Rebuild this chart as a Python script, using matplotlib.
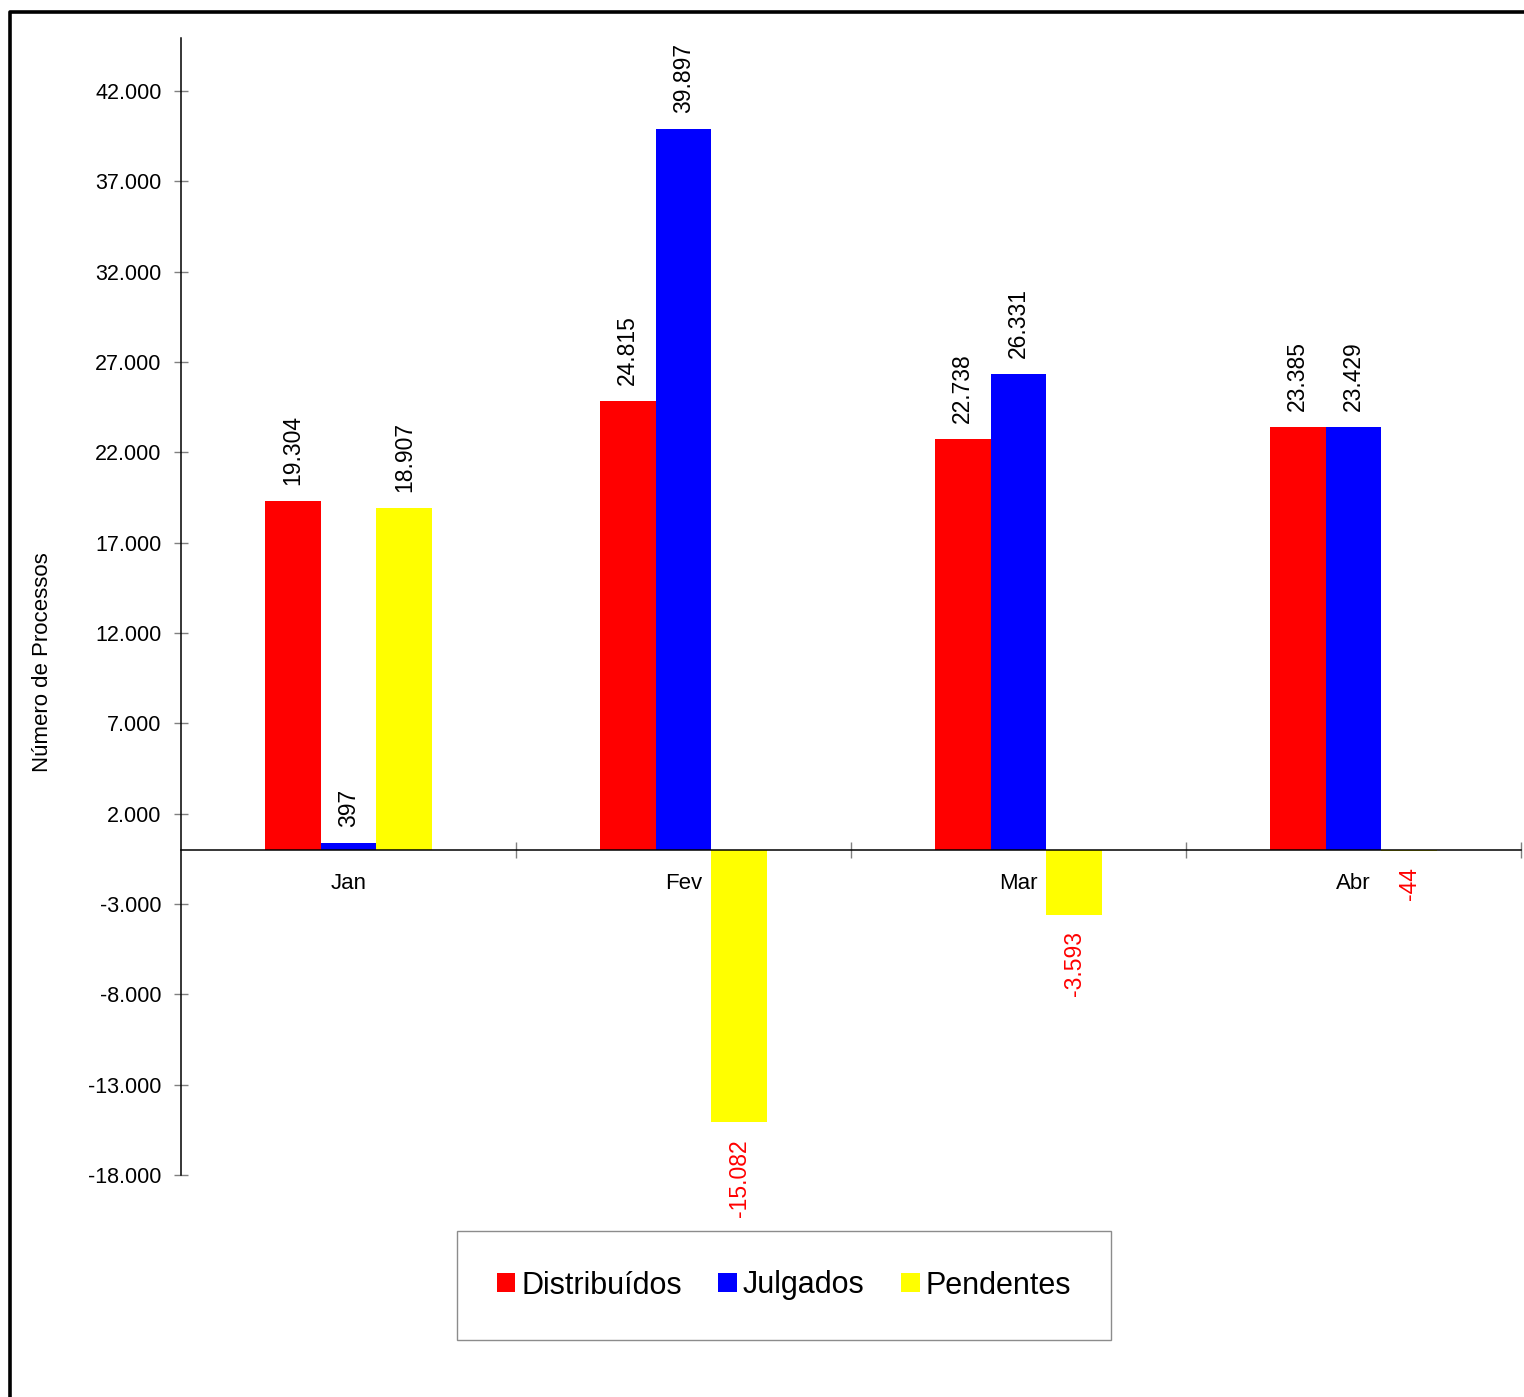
import numpy as np
import matplotlib
matplotlib.use('Agg')
import matplotlib.pylab as plt
from matplotlib.lines import Line2D
from matplotlib.ticker import FuncFormatter

#======================================================================================
#                                  data
#======================================================================================
meses        = ['Jan', 'Fev', 'Mar', 'Abr']
distribuidos = [19304, 24815, 22738, 23385]
julgados     = [397, 39897, 26331, 23429]
pendentes    = [18907, -15082, -3593, -44]
yticks_vals  = list(range(-18000, 42001, 5000))

series  = [('Distribuídos', distribuidos, '#FF0000'),
           ('Julgados',     julgados,     '#0000FF'),
           ('Pendentes',    pendentes,    '#FFFF00')]

plt.rcParams['font.family'] = ['Liberation Sans', 'DejaVu Sans']

def fmt_br(v, pos=None):
    return '{:,.0f}'.format(v).replace(',', '.')

#======================================================================================
fig = plt.figure(figsize=(15.24, 13.97), dpi=100)
W, H = 1524.0, 1397.0
ax = fig.add_axes([181/W, 1-1175/H, (1521-181)/W, (1175-38)/H])

x = np.arange(len(meses))
bw = 0.167
offsets = [-bw, 0.0, bw]
ytop = 42000 + 53/18.07*1000

#--------------------------------------------------------------------
#                     bars + value labels
#--------------------------------------------------------------------
for (name, vals, col), off in zip(series, offsets):
    ax.bar(x + off, vals, width=bw, color=col, label=name, linewidth=0)
    for xi, v in zip(x, vals):
        if v >= 0:
            ax.annotate(fmt_br(v), (xi + off, v), xytext=(0, 11.5), textcoords='offset points',
                        rotation=90, ha='center', va='bottom', fontsize=16.5, color='black')
        else:
            ax.annotate(fmt_br(v), (xi + off, v), xytext=(0, -12), textcoords='offset points',
                        rotation=90, ha='center', va='top', fontsize=16.5, color='#FF0000')

#--------------------------------------------------------------------
#                     axes
#--------------------------------------------------------------------
ax.set_xlim(-0.5, 3.5)
ax.set_ylim(-18000, ytop)

ax.spines['top'].set_visible(False)
ax.spines['right'].set_visible(False)
ax.spines['bottom'].set_position(('data', 0))
ax.spines['left'].set_linewidth(1.1)
ax.spines['bottom'].set_linewidth(1.1)

ax.set_yticks(yticks_vals)
ax.yaxis.set_major_formatter(FuncFormatter(fmt_br))
ax.tick_params(axis='y', which='major', direction='inout', length=10, width=1.0,
               color='#808080', pad=9, labelsize=15.5)

ax.set_xticks([0.5, 1.5, 2.5, 3.5])
ax.set_xticklabels(['', '', '', ''])
ax.set_xticks(x, minor=True)
ax.set_xticklabels(meses, minor=True)
ax.tick_params(axis='x', which='major', direction='inout', length=11.5, width=1.0,
               color='#808080')
ax.tick_params(axis='x', which='minor', length=0, pad=16.5, labelsize=16)

fig.text(43/W, 1-662/H, 'Número de Processos', rotation=90, ha='center', va='center',
         fontsize=16)

#--------------------------------------------------------------------
#                     legend
#--------------------------------------------------------------------
lg = fig.legend(loc='center', bbox_to_anchor=(784/W, 1-1285.5/H), ncol=3, fontsize=22,
                frameon=True, fancybox=False, edgecolor='#707070', handlelength=0.6,
                handleheight=0.6, handletextpad=0.2, columnspacing=1.2, borderpad=1.3,
                borderaxespad=0)
lg.get_frame().set_linewidth(1.0)

#--------------------------------------------------------------------
#                     outer frame (left + top only)
#--------------------------------------------------------------------
fig.add_artist(Line2D([10/W, 10/W, 1.0], [0.0, 1-11.7/H, 1-11.7/H], color='black',
                      linewidth=2.6, transform=fig.transFigure))

plt.savefig('out.png', dpi=100)
